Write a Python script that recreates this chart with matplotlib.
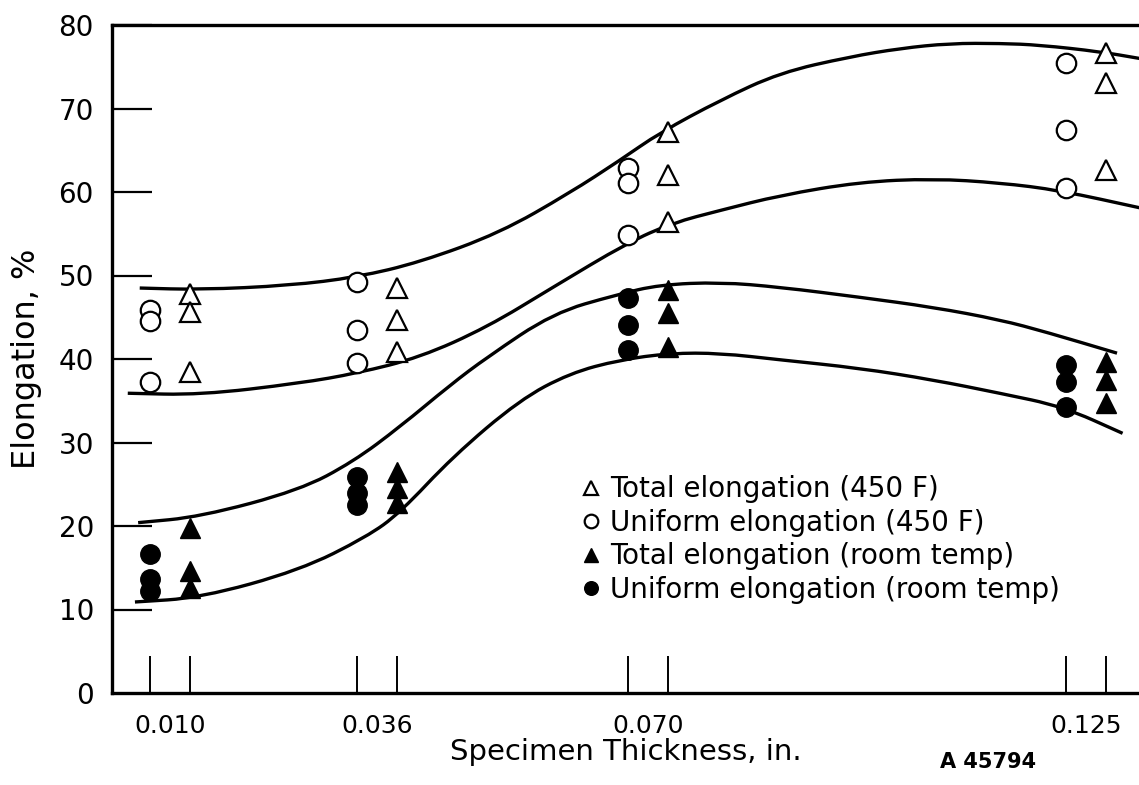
import numpy as np
import matplotlib
matplotlib.use("Agg")
import matplotlib.pyplot as plt
from matplotlib.path import Path
from matplotlib.patches import PathPatch
from matplotlib.ticker import FixedLocator, NullFormatter

# specimen thickness, in. (tick labels)
thickness = [0.010, 0.036, 0.070, 0.125]
thickness_labels = ["0.010", "0.036", "0.070", "0.125"]

# three specimens per thickness, elongation %
total_450F = [[47.8, 45.6, 38.5], [48.5, 44.7, 40.8], [67.2, 62.0, 56.4], [76.6, 73.0, 62.6]]
uniform_450F = [[45.9, 44.5, 37.2], [49.2, 43.5, 39.5], [62.9, 61.1, 54.8], [75.4, 67.4, 60.5]]
total_room = [[19.8, 14.6, 12.6], [26.5, 24.5, 22.7], [48.3, 45.5, 41.4], [39.6, 37.5, 34.7]]
uniform_room = [[16.6, 13.6, 12.2], [25.9, 24.0, 22.5], [47.3, 44.1, 41.1], [39.3, 37.2, 34.3]]

# hand drawn band curves
curve_a_x = [0.0062, 0.0138, 0.0250, 0.0335, 0.0414, 0.0514, 0.0602, 0.0665, 0.0715, 0.0791,
             0.0866, 0.0954, 0.1017, 0.1079, 0.1143, 0.1192, 0.1268, 0.1317]
curve_a_y = [48.5, 48.3, 48.8, 49.8, 51.6, 55.1, 59.9, 63.8, 67.1, 71.0,
             74.3, 76.2, 77.2, 77.8, 77.8, 77.6, 76.8, 76.0]
curve_b_x = [0.0047, 0.0138, 0.0263, 0.0335, 0.0414, 0.0498, 0.0581, 0.0674, 0.0731, 0.0791,
             0.0866, 0.0966, 0.1058, 0.1142, 0.1217, 0.1318]
curve_b_y = [35.9, 35.7, 37.1, 38.3, 40.2, 43.8, 48.6, 53.9, 56.3, 57.8,
             59.6, 61.2, 61.6, 61.1, 60.2, 58.1]
curve_c_x = [0.0060, 0.0138, 0.0263, 0.0330, 0.0389, 0.0452, 0.0498, 0.0581, 0.0661, 0.0715,
             0.0791, 0.0866, 0.0966, 0.1058, 0.1142, 0.1201, 0.1289]
curve_c_y = [20.4, 21.1, 24.3, 27.7, 31.9, 36.9, 40.2, 45.5, 47.7, 48.9,
             49.2, 48.6, 47.4, 46.2, 44.7, 43.2, 40.7]
curve_d_x = [0.0056, 0.0138, 0.0263, 0.0347, 0.0389, 0.0455, 0.0539, 0.0602, 0.0665, 0.0728,
             0.0791, 0.0866, 0.0966, 0.1058, 0.1142, 0.1221, 0.1296]
curve_d_y = [10.9, 11.4, 14.7, 18.7, 21.6, 28.3, 35.1, 38.3, 39.9, 40.7,
             40.7, 39.9, 38.9, 37.5, 35.9, 34.3, 31.1]

plt.rcParams['font.family'] = ['DejaVu Sans']

fig = plt.figure(figsize=(11.39, 7.85), dpi=100)
ax = fig.add_axes([112 / 1139, 92 / 785, 1027 / 1139, 668 / 785])

off = 0.0025  # circles sit left of the thickness, triangles right


def column_xy(groups, shift):
    xs, ys = [], []
    for t, vals in zip(thickness, groups):
        xs += [t + shift] * len(vals)
        ys += vals
    return xs, ys


def smooth_path(xs, ys):
    # quadratic beziers through the midpoints, read points act as controls
    p = np.column_stack([xs, ys])
    verts = [p[0], (p[0] + p[1]) / 2]
    codes = [Path.MOVETO, Path.LINETO]
    for i in range(1, len(p) - 1):
        verts += [p[i], (p[i] + p[i + 1]) / 2]
        codes += [Path.CURVE3, Path.CURVE3]
    verts.append(p[-1])
    codes.append(Path.LINETO)
    return Path(verts, codes)


for cx, cy in [(curve_a_x, curve_a_y), (curve_b_x, curve_b_y),
               (curve_c_x, curve_c_y), (curve_d_x, curve_d_y)]:
    ax.add_patch(PathPatch(smooth_path(cx, cy), fill=False, edgecolor='black',
                           lw=2.4, capstyle='butt', zorder=2))

x, y = column_xy(total_450F, off)
h1, = ax.plot(x, y, ls='none', marker='^', ms=14, mfc='white', mec='black', mew=1.6,
              label='Total elongation (450 F)', zorder=3)
x, y = column_xy(uniform_450F, -off)
h2, = ax.plot(x, y, ls='none', marker='o', ms=14, mfc='white', mec='black', mew=1.6,
              label='Uniform elongation (450 F)', zorder=3)
x, y = column_xy(total_room, off)
h3, = ax.plot(x, y, ls='none', marker='^', ms=15, mfc='black', mec='black',
              label='Total elongation (room temp)', zorder=3)
x, y = column_xy(uniform_room, -off)
h4, = ax.plot(x, y, ls='none', marker='o', ms=14, mfc='black', mec='black',
              label='Uniform elongation (room temp)', zorder=3)

ax.set_xlim(0.00272, 0.13166)
ax.set_ylim(0, 80)

# y axis: inward ticks from 10 to 80, labels 0..80
ax.set_yticks(np.arange(0, 90, 10))
ax.tick_params(axis='y', direction='in', length=29, width=1.6, pad=13, labelsize=20)
ax.yaxis.get_major_ticks()[0].tick1line.set_visible(False)

# x axis: labels at each thickness, tall marks at each specimen column
ax.set_xticks(thickness)
ax.set_xticklabels(thickness_labels)
ax.tick_params(axis='x', which='major', length=0, pad=15, labelsize=18)
marks = [t + s for t in thickness for s in (-off, off)]
ax.xaxis.set_minor_locator(FixedLocator(marks))
ax.xaxis.set_minor_formatter(NullFormatter())
ax.tick_params(axis='x', which='minor', direction='in', length=27, width=1.4)

for side in ['left', 'bottom', 'top']:
    ax.spines[side].set_linewidth(2.4)
ax.spines['right'].set_visible(False)

ax.set_xlabel('Specimen Thickness, in.', fontsize=21, labelpad=0)
ax.set_ylabel('Elongation, %', fontsize=23, labelpad=12)

ax.legend(handles=[h1, h2, h3, h4], loc='upper left', bbox_to_anchor=(0.458, 0.326),
          frameon=False, fontsize=20, markerscale=0.7, handlelength=0.6,
          handletextpad=0.4, labelspacing=0.2, borderpad=0, borderaxespad=0)

fig.text(940 / 1139, 1 - 762 / 785, 'A 45794', fontsize=15, fontweight='bold',
         va='center', ha='left')

fig.savefig('out.png', dpi=100)
